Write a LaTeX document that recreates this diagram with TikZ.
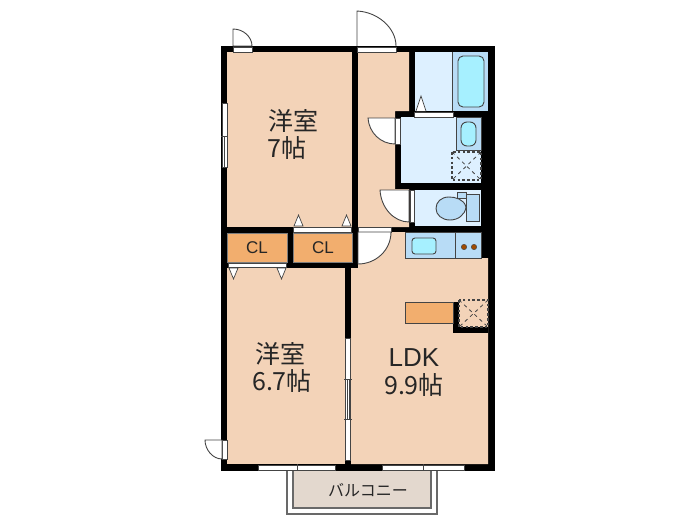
\documentclass[tikz,border=0pt]{standalone}
\usepackage{fontspec}
\setmainfont{Noto Sans CJK JP}
\newfontfamily\latinfont{Liberation Sans}
\definecolor{room}{HTML}{F3D3B8}
\definecolor{cl}{HTML}{F2AE6E}
\definecolor{wet}{HTML}{DDF0FF}
\definecolor{fixt}{HTML}{B8DCF6}
\definecolor{tub}{HTML}{A6F0FF}
\definecolor{balc}{HTML}{E3D8CE}
\definecolor{ln}{HTML}{444444}
\definecolor{dot}{HTML}{A04A00}
\tikzset{
  wall/.style={fill=black,draw=none},
  floorroom/.style={fill=room,draw=none},
  opening/.style={fill=white,draw=ln,line width=.7pt},
  swing/.style={fill=white,draw=ln,line width=.9pt},
  fixture/.style={draw=ln,line width=.9pt},
  drain/.style={draw=ln,line width=1.1pt,dash pattern=on 2.6pt off 2.2pt},
  drainx/.style={draw=ln,line width=.8pt,dash pattern=on 3.5pt off 3.5pt},
  marker/.style={fill=white,draw=ln,line width=.7pt},
  mullion/.style={draw=ln,line width=1pt},
  big/.style={font=\fontsize{25}{30}\selectfont,inner sep=0pt,align=center,text=black!85},
  bigl/.style={font=\latinfont\fontsize{26}{30}\selectfont,inner sep=0pt,text=black!85},
  small/.style={font=\latinfont\fontsize{17}{20}\selectfont,inner sep=0pt,text=black!85},
  balctext/.style={font=\fontsize{16}{19}\selectfont,inner sep=0pt,text=black!85}
}
\begin{document}
\begin{tikzpicture}[x=1pt,y=-1pt]
\useasboundingbox (0,0) rectangle (700,525);
% balcony
\draw[fill=white,draw=ln!80,line width=1.3pt] (287,471) -- (287,514) -- (437,514) -- (437,471);
\draw[fill=balc,draw=ln!80,line width=1.1pt] (293,471) -- (293,508) -- (431,508) -- (431,471);
% outer mass
\fill[wall] (221,46) rectangle (495,471);
% rooms
\fill[floorroom] (227,52) rectangle (352,227);
\fill[floorroom] (358,52) -- (409,52) -- (409,111) -- (395,111) -- (395,189) -- (409,189) -- (409,227) -- (358,227) -- cycle;
\fill[floorroom] (227,268) rectangle (345,464);
\fill[floorroom] (358,232) -- (481,232) -- (481,258) -- (488,258) -- (488,464) -- (351,464) -- (351,268) -- (358,268) -- cycle;
% closets
\draw[fill=cl,draw=ln!70,line width=.5pt] (227,233) rectangle (287,262);
\draw[fill=cl,draw=ln!70,line width=.5pt] (293,233) rectangle (352,262);
% bath
\fill[wet] (415,52) rectangle (452,111);
\draw[fill=fixt,draw=none] (452,52) rectangle (488,111);
\draw[ln,line width=.9pt] (452,52) -- (452,111);
\draw[fixture,fill=tub,rounded corners=5pt] (458,56) rectangle (484,107);
% washroom
\fill[wet] (401,117) rectangle (481,183);
\draw[fixture,fill=fixt] (456,117) rectangle (481,150);
\draw[fixture,fill=tub,rounded corners=6pt] (461,122) rectangle (476,146);
\draw[drain] (452,152) rectangle (481,180);
\draw[drainx] (452,152) -- (481,180);
\draw[drainx] (481,152) -- (452,180);
% toilet
\fill[wet] (415,190) rectangle (481,226);
\draw[fixture,fill=fixt] (466,194) rectangle (479,221);
\draw[fixture,fill=fixt] (457,192) rectangle (466,198);
\draw[fixture,fill=fixt] (466,207) .. controls (464,199) and (455,197) .. (449,197) .. controls (441,197) and (436,202) .. (436,208.5) .. controls (436,215) and (442,220) .. (450,220) .. controls (458,220) and (465,215) .. (466,207) -- cycle;
% kitchen
\draw[fixture,fill=fixt] (405,232) rectangle (481,258);
\draw[ln,line width=.9pt] (455.5,232) -- (455.5,258);
\draw[fixture,fill=tub,rounded corners=3pt] (412,238) rectangle (436,254);
\draw[fill=dot,draw=black!70,line width=.5pt] (464,247) circle (2.7pt) (474,247) circle (2.7pt);
% counter and shaft
\fill[wall] (453,302) rectangle (459,333);
\fill[wall] (453,327) rectangle (488,333);
\draw[fixture,fill=cl,line width=1pt] (405,302) rectangle (453,323);
\draw[drain] (459,300) rectangle (488,327);
\draw[drainx] (459,300) -- (488,327);
\draw[drainx] (488,300) -- (459,327);
% partition sliding door
\draw[opening] (345.5,338) rectangle (350.5,460);
\draw[mullion] (344,379) -- (352,379);
\draw[mullion] (344,419) -- (352,419);
\draw[ln,line width=.8pt] (347,379) -- (347,419);
\draw[ln,line width=.8pt] (349,379) -- (349,419);
% left window
\draw[opening] (222,103) rectangle (227,167);
\draw[mullion] (221,136) -- (228,136);
\draw[ln,line width=.8pt] (224.5,136) -- (224.5,167);
% bottom windows
\draw[opening] (258,465) rectangle (335,470);
\draw[mullion] (297,464) -- (297,471);
\draw[opening] (382,465) rectangle (464,470);
\draw[mullion] (423,464) -- (423,471);
% doors
\draw[opening] (233,47) rectangle (252,52);
\draw[swing] (233,46) -- (233,29) .. controls (243.5,29) and (252,37) .. (252,46) -- cycle;
\draw[opening] (357,47) rectangle (396,52);
\draw[swing,fill=none] (357,46) -- (357,11) .. controls (378,12) and (396,28) .. (396,46);
\draw[opening] (414,112) rectangle (453,117);
\draw[marker] (416,111) -- (421,96) -- (426,111);
\draw[opening] (395,118) rectangle (400,144);
\draw[swing] (395,118) -- (368,118) .. controls (369,133) and (381,144) .. (395,144) -- cycle;
\draw[opening] (410,190) rectangle (414,222);
\draw[swing] (409,190) -- (380,190) .. controls (381,208) and (394,222) .. (409,222) -- cycle;
\draw[opening] (358,227) rectangle (391,232);
\draw[swing] (358,232) -- (391,232) .. controls (391,250) and (376,264) .. (358,264) -- cycle;
\draw[opening] (222,440) rectangle (227,459);
\draw[swing] (222,440) -- (205,440) .. controls (205,450) and (213,459) .. (222,459) -- cycle;
% closet doors
\draw[opening] (293,227.5) rectangle (351,232);
\draw[marker] (294,226) -- (298.5,215) -- (303,226) -- cycle;
\draw[marker] (342,226) -- (346.5,215) -- (351,226) -- cycle;
\draw[opening] (228,263) rectangle (286,267.5);
\draw[marker] (229,268) -- (233.5,279) -- (238,268) -- cycle;
\draw[marker] (277,268) -- (281.5,279) -- (286,268) -- cycle;
% labels
\node[big] (r1a) at (293,121) {洋室};
\node[big] (r1b) at (287,148) {7帖};
\node[big] (r2a) at (280,354) {洋室};
\node[big] (r2b) at (282,381) {6.7帖};
\node[bigl] (r3a) at (414,358) {LDK};
\node[big] (r3b) at (414,385) {9.9帖};
\node[small] (c1) at (257,248) {CL};
\node[small] (c2) at (323,248) {CL};
\node[balctext] (b) at (368,490) {バルコニー};
\end{tikzpicture}
\end{document}
